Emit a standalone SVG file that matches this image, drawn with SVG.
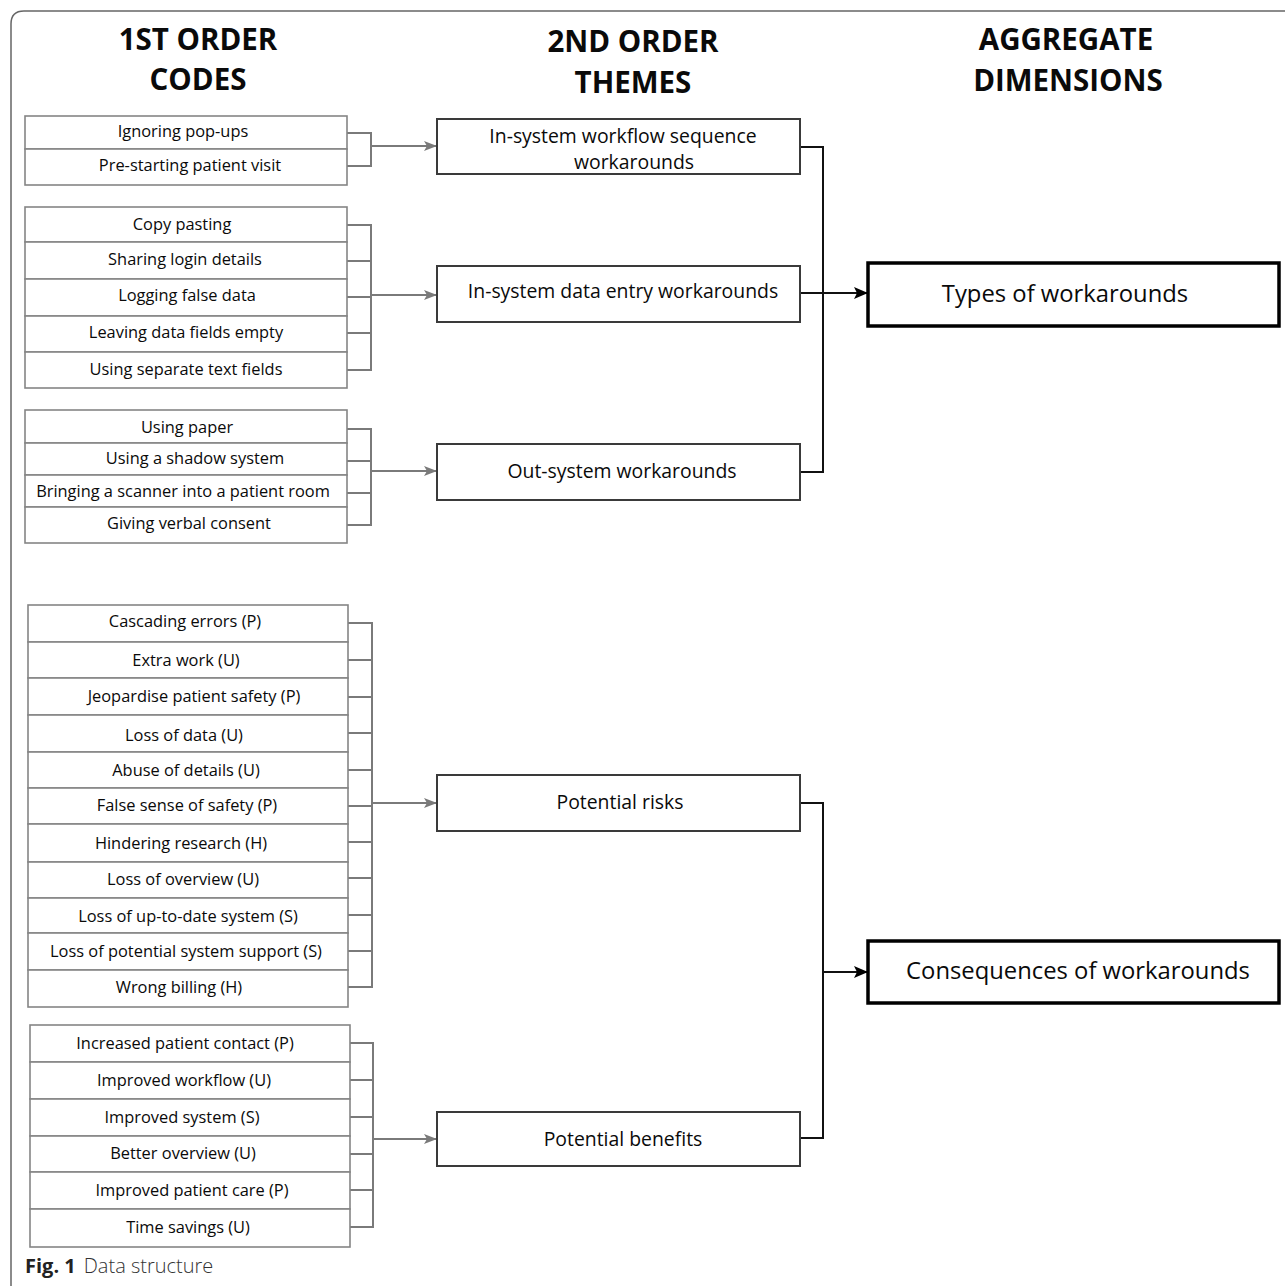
<svg xmlns="http://www.w3.org/2000/svg" width="1285" height="1286" viewBox="0 0 1285 1286">
<defs>
<style>
.frame{fill:none;stroke:#666;stroke-width:1.5}
.code{fill:#fff;stroke:#858585;stroke-width:1.6}
.theme{fill:#fff;stroke:#3a3a3a;stroke-width:2}
.agg{fill:#fff;stroke:#000;stroke-width:3.5}
.lc{fill:none;stroke:#7a7a7a;stroke-width:2}
.rc{fill:none;stroke:#111;stroke-width:2}
text{font-family:"Open Sans","Liberation Sans",sans-serif;fill:#0a0a0a;text-anchor:middle}
.hd{font-size:29.5px;font-weight:bold}
.ct{font-size:16.4px;font-weight:500}
.tt{font-size:19.4px;font-weight:500}
.at{font-size:23.8px;font-weight:500}
.cap{text-anchor:start;font-size:20px}
</style>
<marker id="ag" markerUnits="userSpaceOnUse" viewBox="0 0 13 10" refX="13" refY="5" markerWidth="13" markerHeight="10" orient="auto"><path d="M0,0 L13,5 L0,10 L3,5 z" fill="#7a7a7a"/></marker>
<marker id="ab" markerUnits="userSpaceOnUse" viewBox="0 0 14 12" refX="14" refY="6" markerWidth="14" markerHeight="12" orient="auto"><path d="M0,0 L14,6 L0,12 L3,6 z" fill="#000"/></marker>
</defs>
<rect width="1285" height="1286" fill="#fff"/>
<path class="frame" d="M11,1290 V24 Q11,11 24,11 H1290"/>

<g id="headers">
<text class="hd" x="198" y="50">1ST ORDER</text>
<text class="hd" x="198" y="90">CODES</text>
<text class="hd" x="633" y="52">2ND ORDER</text>
<text class="hd" x="633" y="93">THEMES</text>
<text class="hd" x="1066" y="50">AGGREGATE</text>
<text class="hd" x="1068" y="91">DIMENSIONS</text>
</g>

<g id="connectors">
<path class="lc" d="M347,133 H371 V166 H347"/>
<path class="lc" d="M371,146 H437" marker-end="url(#ag)"/>
<path class="lc" d="M347,225 H371 V370 H347 M347,261 H371 M347,297 H371 M347,333 H371"/>
<path class="lc" d="M371,295 H437" marker-end="url(#ag)"/>
<path class="lc" d="M347,429 H371 V525 H347 M347,461 H371 M347,493 H371"/>
<path class="lc" d="M371,471 H437" marker-end="url(#ag)"/>
<path class="lc" d="M348,623 H372 V987 H348 M348,660 H372 M348,697 H372 M348,733 H372 M348,770 H372 M348,806 H372 M348,842 H372 M348,878 H372 M348,915 H372 M348,951 H372"/>
<path class="lc" d="M372,803 H437" marker-end="url(#ag)"/>
<path class="lc" d="M350,1043 H373 V1227 H350 M350,1080 H373 M350,1117 H373 M350,1154 H373 M350,1190 H373"/>
<path class="lc" d="M373,1139 H437" marker-end="url(#ag)"/>
<path class="rc" d="M800,147 H823 V472 H800 M800,293 H823"/>
<path class="rc" d="M823,293 H868" marker-end="url(#ab)"/>
<path class="rc" d="M800,803 H823 V1138 H800"/>
<path class="rc" d="M823,972 H868" marker-end="url(#ab)"/>
</g>

<g id="c-ignoring"><rect class="code" x="25" y="116" width="322" height="33"/><text class="ct" x="183" y="137">Ignoring pop-ups</text></g>
<g id="c-prestarting"><rect class="code" x="25" y="149" width="322" height="36"/><text class="ct" x="190" y="171">Pre-starting patient visit</text></g>

<g id="c-copy"><rect class="code" x="25" y="207" width="322" height="35"/><text class="ct" x="182" y="230">Copy pasting</text></g>
<g id="c-sharing"><rect class="code" x="25" y="242" width="322" height="37"/><text class="ct" x="185" y="265">Sharing login details</text></g>
<g id="c-logging"><rect class="code" x="25" y="279" width="322" height="37"/><text class="ct" x="187" y="301">Logging false data</text></g>
<g id="c-leaving"><rect class="code" x="25" y="316" width="322" height="36"/><text class="ct" x="186" y="338">Leaving data fields empty</text></g>
<g id="c-separate"><rect class="code" x="25" y="352" width="322" height="36"/><text class="ct" x="186" y="375">Using separate text fields</text></g>

<g id="c-paper"><rect class="code" x="25" y="410" width="322" height="33"/><text class="ct" x="187" y="433">Using paper</text></g>
<g id="c-shadow"><rect class="code" x="25" y="443" width="322" height="32"/><text class="ct" x="195" y="464">Using a shadow system</text></g>
<g id="c-scanner"><rect class="code" x="25" y="475" width="322" height="32"/><text class="ct" x="183" y="497">Bringing a scanner into a patient room</text></g>
<g id="c-verbal"><rect class="code" x="25" y="507" width="322" height="36"/><text class="ct" x="189" y="529">Giving verbal consent</text></g>

<g id="c-cascading"><rect class="code" x="28" y="605" width="320" height="37"/><text class="ct" x="185" y="627">Cascading errors (P)</text></g>
<g id="c-extra"><rect class="code" x="28" y="642" width="320" height="36"/><text class="ct" x="186" y="666">Extra work (U)</text></g>
<g id="c-jeopardise"><rect class="code" x="28" y="678" width="320" height="37"/><text class="ct" x="194" y="702">Jeopardise patient safety (P)</text></g>
<g id="c-lossdata"><rect class="code" x="28" y="715" width="320" height="37"/><text class="ct" x="184" y="741">Loss of data (U)</text></g>
<g id="c-abuse"><rect class="code" x="28" y="752" width="320" height="36"/><text class="ct" x="186" y="776">Abuse of details (U)</text></g>
<g id="c-false"><rect class="code" x="28" y="788" width="320" height="36"/><text class="ct" x="187" y="811">False sense of safety (P)</text></g>
<g id="c-hindering"><rect class="code" x="28" y="824" width="320" height="38"/><text class="ct" x="181" y="849">Hindering research (H)</text></g>
<g id="c-overview"><rect class="code" x="28" y="862" width="320" height="36"/><text class="ct" x="183" y="885">Loss of overview (U)</text></g>
<g id="c-uptodate"><rect class="code" x="28" y="898" width="320" height="35"/><text class="ct" x="188" y="922">Loss of up-to-date system (S)</text></g>
<g id="c-support"><rect class="code" x="28" y="933" width="320" height="37"/><text class="ct" x="186" y="957">Loss of potential system support (S)</text></g>
<g id="c-billing"><rect class="code" x="28" y="970" width="320" height="37"/><text class="ct" x="179" y="993">Wrong billing (H)</text></g>

<g id="c-contact"><rect class="code" x="30" y="1025" width="320" height="37"/><text class="ct" x="185" y="1049">Increased patient contact (P)</text></g>
<g id="c-workflow"><rect class="code" x="30" y="1062" width="320" height="37"/><text class="ct" x="184" y="1086">Improved workflow (U)</text></g>
<g id="c-system"><rect class="code" x="30" y="1099" width="320" height="37"/><text class="ct" x="182" y="1123">Improved system (S)</text></g>
<g id="c-better"><rect class="code" x="30" y="1136" width="320" height="36"/><text class="ct" x="183" y="1159">Better overview (U)</text></g>
<g id="c-care"><rect class="code" x="30" y="1172" width="320" height="37"/><text class="ct" x="192" y="1196">Improved patient care (P)</text></g>
<g id="c-time"><rect class="code" x="30" y="1209" width="320" height="38"/><text class="ct" x="188" y="1233">Time savings (U)</text></g>

<g id="t-workflow"><rect class="theme" x="437" y="119" width="363" height="55"/><text class="tt" x="623" y="143">In-system workflow sequence</text><text class="tt" x="634" y="169">workarounds</text></g>
<g id="t-dataentry"><rect class="theme" x="437" y="266" width="363" height="56"/><text class="tt" x="623" y="298">In-system data entry workarounds</text></g>
<g id="t-outsystem"><rect class="theme" x="437" y="444" width="363" height="56"/><text class="tt" x="622" y="478">Out-system workarounds</text></g>
<g id="t-risks"><rect class="theme" x="437" y="775" width="363" height="56"/><text class="tt" x="620" y="809">Potential risks</text></g>
<g id="t-benefits"><rect class="theme" x="437" y="1112" width="363" height="54"/><text class="tt" x="623" y="1146">Potential benefits</text></g>

<g id="a-types"><rect class="agg" x="868" y="263" width="411" height="63"/><text class="at" x="1065" y="302">Types of workarounds</text></g>
<g id="a-consequences"><rect class="agg" x="868" y="941" width="411" height="62"/><text class="at" x="1078" y="979">Consequences of workarounds</text></g>

<g id="caption">
<text class="cap" x="25" y="1273"><tspan font-weight="bold" fill="#222">Fig. 1</tspan><tspan dx="8" font-weight="300" fill="#333">Data structure</tspan></text>
</g>
</svg>
